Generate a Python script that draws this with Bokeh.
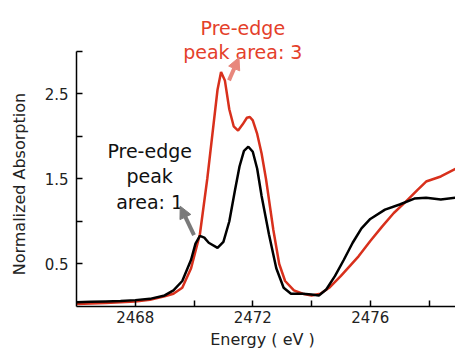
import math
from bokeh.plotting import figure
from bokeh.models import Label, Arrow, NormalHead, FixedTicker, Range1d
from bokeh.embed import file_html
from bokeh.resources import INLINE

# Energy (eV) and normalized absorption
energy_a = [2466.0, 2466.5, 2467.0, 2467.5, 2468.0, 2468.5, 2469.0, 2469.3, 2469.6, 2469.9,
            2470.05, 2470.2, 2470.35, 2470.5, 2470.8, 2471.0, 2471.2, 2471.4, 2471.55, 2471.7,
            2471.85, 2472.0, 2472.15, 2472.3, 2472.55, 2472.8, 2473.05, 2473.3, 2473.7, 2474.0,
            2474.25, 2474.5, 2474.8, 2475.1, 2475.4, 2475.7, 2476.0, 2476.5, 2477.0, 2477.5,
            2477.9, 2478.4, 2478.9]
absorb_a = [0.05, 0.055, 0.06, 0.065, 0.075, 0.09, 0.13, 0.19, 0.30, 0.55,
            0.74, 0.83, 0.81, 0.75, 0.69, 0.76, 1.00, 1.38, 1.65, 1.83,
            1.88, 1.82, 1.62, 1.30, 0.85, 0.45, 0.22, 0.15, 0.15, 0.14,
            0.13, 0.20, 0.36, 0.55, 0.75, 0.92, 1.03, 1.14, 1.20, 1.27,
            1.28, 1.26, 1.28]

energy_b = [2466.0, 2467.0, 2468.0, 2468.5, 2469.0, 2469.3, 2469.6, 2469.9, 2470.2, 2470.45,
            2470.65, 2470.8, 2470.92, 2471.05, 2471.2, 2471.35, 2471.5, 2471.65, 2471.8, 2471.9,
            2472.0, 2472.15, 2472.3, 2472.45, 2472.7, 2472.9, 2473.1, 2473.4, 2473.7, 2474.0,
            2474.3, 2474.6, 2475.0, 2475.6, 2476.0, 2476.4, 2476.8, 2477.2, 2477.6, 2477.9,
            2478.4, 2478.9]
absorb_b = [0.03, 0.04, 0.06, 0.08, 0.12, 0.15, 0.22, 0.45, 0.85, 1.50,
            2.10, 2.55, 2.76, 2.66, 2.32, 2.12, 2.07, 2.14, 2.22, 2.23,
            2.19, 2.03, 1.80, 1.50, 0.90, 0.50, 0.30, 0.19, 0.15, 0.13,
            0.15, 0.22, 0.36, 0.59, 0.77, 0.94, 1.10, 1.23, 1.37, 1.47,
            1.53, 1.62]

x_ticks = [2468, 2470, 2472, 2474, 2476, 2478]
x_tick_labels = {2468: "2468", 2470: "", 2472: "2472", 2474: "", 2476: "2476", 2478: ""}
y_ticks = [0.5, 1.0, 1.5, 2.0, 2.5, 3.0]
y_tick_labels = {0.5: "0.5", 1.0: "", 1.5: "1.5", 2.0: "", 2.5: "2.5", 3.0: ""}

FONT = "DejaVu Sans"
RED_LINE = "#D8301C"
RED_TEXT = "#E4402A"

X0, X1 = 2466.0, 2478.9
Y0, Y1 = 0.0, 3.0
# frame spans whole figure; axes are pinned at the data origin
p = figure(width=455, height=349, output_backend="svg", toolbar_location=None,
           x_range=Range1d(2463.413, X1), y_range=Range1d(-0.5059, 3.6),
           min_border_left=0, min_border_right=0, min_border_top=0, min_border_bottom=0)
p.outline_line_color = None
p.grid.visible = False
p.background_fill_color = "white"
p.border_fill_color = "white"

p.line(energy_b, absorb_b, line_color=RED_LINE, line_width=2.5)
p.line(energy_a, absorb_a, line_color="black", line_width=2.5)

for ax in (p.xaxis[0], p.yaxis[0]):
    ax.axis_line_width = 1.5
    ax.axis_line_color = "black"
    ax.major_tick_in = 6
    ax.major_tick_out = 0
    ax.major_tick_line_width = 1.5
    ax.minor_tick_line_color = None
    ax.major_label_text_font = FONT
    ax.major_label_text_font_size = "15px"
    ax.major_label_text_color = "#222222"

p.xaxis.fixed_location = Y0
p.yaxis.fixed_location = X0
p.xaxis.bounds = (X0, X1)
p.yaxis.bounds = (Y0, Y1)
p.xaxis.ticker = FixedTicker(ticks=x_ticks)
p.xaxis.major_label_overrides = x_tick_labels
p.yaxis.ticker = FixedTicker(ticks=y_ticks)
p.yaxis.major_label_overrides = dict(y_tick_labels)
p.xaxis.major_label_standoff = 5
p.yaxis.major_label_standoff = 8

# axis titles
p.add_layout(Label(x=2472.33, y=-0.394, text="Energy ( eV )", text_align="center",
                   text_baseline="middle", text_font=FONT, text_font_size="16px",
                   text_color="#222222"))
p.add_layout(Label(x=2464.06, y=1.44, text="Normalized Absorption", angle=math.pi / 2,
                   text_align="center", text_baseline="middle", text_font=FONT,
                   text_font_size="16px", text_color="#222222"))

# annotations
for txt, yy in [("Pre-edge", 1.835), ("peak", 1.535), ("area: 1", 1.235)]:
    p.add_layout(Label(x=2468.49, y=yy, text=txt, text_align="center", text_baseline="alphabetic",
                       text_font=FONT, text_font_size="19px", text_color="#111111"))
for txt, yy in [("Pre-edge", 3.28), ("peak area: 3", 2.99)]:
    p.add_layout(Label(x=2471.66, y=yy, text=txt, text_align="center", text_baseline="alphabetic",
                       text_font=FONT, text_font_size="19px", text_color=RED_TEXT))

p.add_layout(Arrow(x_start=2470.0, y_start=0.84, x_end=2469.53, y_end=1.18,
                   line_color="#7A7A7A", line_width=4,
                   end=NormalHead(size=12, fill_color="#7A7A7A", line_color="#7A7A7A")))
p.add_layout(Arrow(x_start=2471.19, y_start=2.66, x_end=2471.53, y_end=2.93,
                   line_color="#E8877C", line_width=4,
                   end=NormalHead(size=12, fill_color="#E8877C", line_color="#E8877C")))

open("out.html", "w").write(file_html(p, INLINE))
